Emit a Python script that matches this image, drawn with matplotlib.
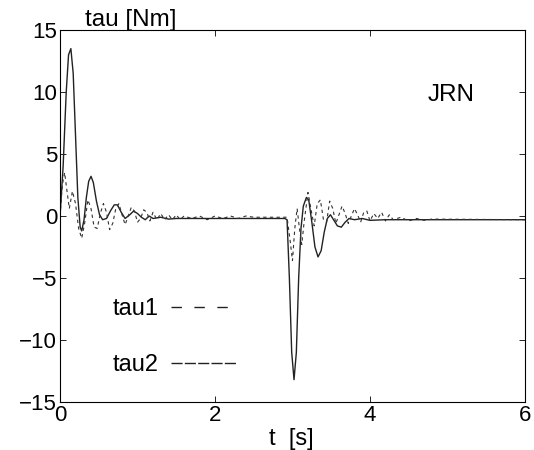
import matplotlib
matplotlib.use("Agg")
import matplotlib.pyplot as plt
from matplotlib.lines import Line2D

plt.rcParams['font.family'] = ['Liberation Sans', 'DejaVu Sans']

# solid curve (time [s], torque [Nm])
t_solid = [0.00, 0.04, 0.08, 0.11, 0.14, 0.17, 0.20, 0.23, 0.26, 0.28, 0.31, 0.34,
           0.37, 0.40, 0.43, 0.47, 0.51, 0.55, 0.60, 0.65, 0.70, 0.74, 0.79, 0.84,
           0.90, 0.95, 1.00, 1.05, 1.10, 1.15, 1.20, 1.30, 1.40, 1.50, 2.00, 2.90,
           2.93, 2.96, 2.99, 3.02, 3.05, 3.08, 3.11, 3.14, 3.18, 3.21, 3.25, 3.29,
           3.33, 3.37, 3.41, 3.45, 3.49, 3.53, 3.58, 3.63, 3.68, 3.73, 3.80, 3.90,
           4.00, 4.20, 6.00]
tau_solid = [0.0, 4.0, 10.0, 13.0, 13.5, 11.5, 6.5, 1.5, -0.9, -1.2, -0.3, 1.5,
             2.8, 3.2, 2.7, 1.2, 0.1, -0.3, -0.2, 0.4, 0.9, 0.9, 0.3, -0.2,
             0.1, 0.4, 0.2, -0.1, -0.3, 0.0, -0.2, -0.1, -0.25, -0.2, -0.2, -0.2,
             -0.3, -5.0, -11.0, -13.2, -11.0, -5.0, -1.0, 0.8, 1.5, 1.3, -0.5, -2.5,
             -3.3, -2.8, -1.3, -0.2, 0.1, -0.3, -0.8, -0.9, -0.5, -0.2, -0.3, -0.2,
             -0.35, -0.3, -0.3]

# dashed curve
t_dash = [0.00, 0.03, 0.06, 0.09, 0.12, 0.16, 0.20, 0.24, 0.28, 0.32, 0.36, 0.40,
          0.44, 0.48, 0.52, 0.56, 0.60, 0.64, 0.68, 0.72, 0.76, 0.80, 0.84, 0.88,
          0.92, 0.96, 1.00, 1.04, 1.08, 1.12, 1.16, 1.20, 1.25, 1.30, 1.35, 1.40,
          1.45, 1.50, 1.55, 1.60, 1.70, 1.80, 1.90, 2.00, 2.10, 2.20, 2.30, 2.40,
          2.50, 2.90, 2.93, 2.97, 3.00, 3.03, 3.06, 3.09, 3.12, 3.15, 3.20, 3.24,
          3.28, 3.32, 3.36, 3.40, 3.44, 3.48, 3.52, 3.56, 3.60, 3.64, 3.68, 3.72,
          3.76, 3.80, 3.84, 3.88, 3.92, 3.96, 4.00, 4.05, 4.10, 4.15, 4.20, 4.25,
          4.30, 4.40, 4.50, 4.60, 4.70, 4.80, 6.00]
tau_dash = [0.0, 2.5, 3.5, 2.0, 0.6, 2.0, 1.0, -1.0, -1.8, -0.5, 1.3, 0.6,
            -0.9, -1.0, 0.2, 1.0, 0.3, -1.1, -0.6, 0.6, 1.0, 0.1, -0.7, 0.0,
            0.7, 0.4, -0.5, -0.2, 0.5, 0.3, -0.4, 0.3, -0.3, 0.2, -0.3, 0.1,
            -0.3, 0.1, -0.3, 0.0, -0.2, 0.0, -0.3, 0.0, -0.2, 0.0, -0.2, 0.0,
            -0.1, -0.1, -0.1, -2.0, -3.6, -1.0, 0.6, -1.0, -2.3, -0.5, 1.9, 0.5,
            -0.8, 1.0, 1.3, -0.3, -0.5, 1.2, 0.6, -0.6, 0.1, 0.8, 0.2, -0.6,
            0.0, 0.6, 0.1, -0.5, 0.3, 0.4, -0.4, 0.2, -0.2, 0.3, -0.4, 0.1,
            -0.3, -0.1, -0.4, -0.2, -0.35, -0.25, -0.3]

x_ticks = [0, 2, 4, 6]
y_ticks = [-15, -10, -5, 0, 5, 10, 15]
legend_labels = ['tau1', 'tau2']

fig = plt.figure(figsize=(5.34, 4.5), dpi=100)
ax = fig.add_axes([0.1124, 0.1067, 0.8706, 0.8266])

ax.plot(t_solid, tau_solid, color='#222222', lw=1.0)
ax.plot(t_dash, tau_dash, color='#333333', lw=0.8, linestyle=(0, (3, 3)))

ax.set_xlim(0, 6)
ax.set_ylim(-15, 15)
ax.set_xticks(x_ticks)
ax.set_yticks(y_ticks)
ax.set_xticklabels([str(v) for v in x_ticks])
ax.set_yticklabels([str(v).replace('-', '\u2212') for v in y_ticks])
ax.tick_params(direction='in', length=4, width=0.6, top=True, right=True,
               labelsize=16, colors='black', pad=2)
for s in ax.spines.values():
    s.set_linewidth(0.8)

handles = [Line2D([], [], color='#222222', lw=1.0, linestyle=(0, (7.5, 9))),
           Line2D([], [], color='#222222', lw=1.0, linestyle=(0, (8, 1.6)))]
ax.legend(handles, legend_labels, loc='center left',
          bbox_to_anchor=(0.1133, 0.175), frameon=False, markerfirst=False,
          fontsize=17, handlelength=2.8, handletextpad=0.5, labelspacing=1.45,
          borderpad=0, borderaxespad=0)

ax.text(4.75, 9.76, 'JRN', fontsize=17.5, va='center')

fig.text(85/534, 1 - 20/450, 'tau [Nm]', fontsize=17.5, va='center', ha='left')
fig.text(291/534, 1 - 439/450, 't  [s]', fontsize=17, va='center', ha='center')

fig.savefig('out.png', dpi=100)
